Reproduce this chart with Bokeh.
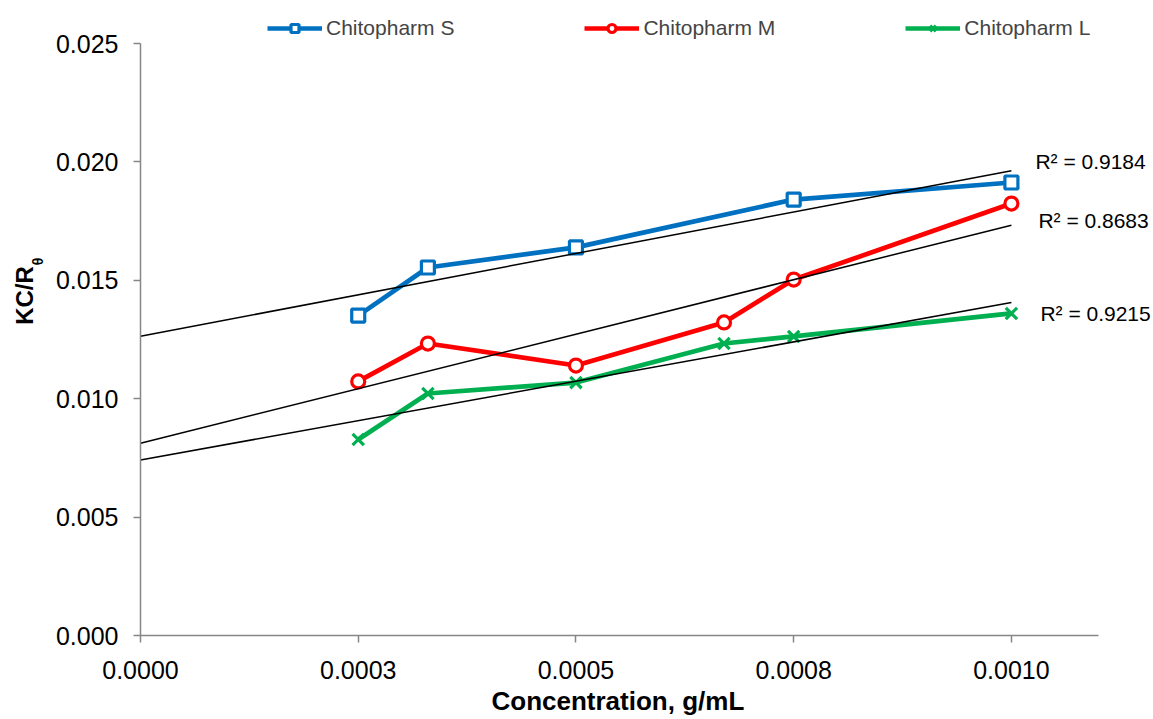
import numpy as np
from bokeh.plotting import figure
from bokeh.layouts import row
from bokeh.models import (Range1d, FixedTicker, NumeralTickFormatter, Label,
                          Legend, LegendItem, Title)
from bokeh.embed import file_html
from bokeh.resources import INLINE

# ---- data ----
series_names = ["Chitopharm S", "Chitopharm M", "Chitopharm L"]
conc_s = [0.00025, 0.00033, 0.0005, 0.00075, 0.001]
kcr_s = [0.01351, 0.01554, 0.01639, 0.01841, 0.01913]
conc_m = [0.00025, 0.00033, 0.0005, 0.00067, 0.00075, 0.001]
kcr_m = [0.01073, 0.01233, 0.01140, 0.01322, 0.01503, 0.01824]
conc_l = [0.00025, 0.00033, 0.0005, 0.00067, 0.00075, 0.001]
kcr_l = [0.00828, 0.01022, 0.01068, 0.01233, 0.01263, 0.01360]
r2_texts = ["R² = 0.9184", "R² = 0.8683", "R² = 0.9215"]
x_ticks = [0, 0.00025, 0.0005, 0.00075, 0.001]
x_tick_labels = ["0.0000", "0.0003", "0.0005", "0.0008", "0.0010"]
y_ticks = [0, 0.005, 0.010, 0.015, 0.020, 0.025]
x_axis_max = 0.0011
y_axis_max = 0.025
x_title = "Concentration, g/mL"
y_title_main, y_title_sub = "KC/R", "θ"

FONT = "Liberation Sans"
AXIS_GREY = "#868686"
colors = ["#0070C0", "#FF0000", "#00B050"]
markers = ["square", "circle", "x"]
marker_sizes = [13, 13, 16]

W, H = 1153, 719
LABEL_W = 50                       # narrow strip holding the y-axis title
LEFT, AXIS_RIGHT_PX, AXIS_TOP_PX, BOTTOM = 140, 1098, 43, 635
x_end = x_axis_max * (W - LEFT) / (AXIS_RIGHT_PX - LEFT)
y_end = y_axis_max * BOTTOM / (BOTTOM - AXIS_TOP_PX)

p = figure(width=W - LABEL_W, height=H, output_backend="svg",
           toolbar_location=None,
           x_range=Range1d(0, x_end), y_range=Range1d(0, y_end),
           min_border_left=LEFT - LABEL_W, min_border_right=0,
           min_border_top=0, min_border_bottom=H - BOTTOM)
p.outline_line_color = None
p.xgrid.visible = False
p.ygrid.visible = False
p.background_fill_color = "white"
p.border_fill_color = "white"

# axes
p.xaxis.ticker = FixedTicker(ticks=x_ticks)
p.xaxis.major_label_overrides = {t: l for t, l in zip(x_ticks, x_tick_labels)}
p.yaxis.ticker = FixedTicker(ticks=y_ticks)
p.yaxis.formatter = NumeralTickFormatter(format="0.000")
p.xaxis.bounds = (0, x_axis_max)
p.yaxis.bounds = (0, y_axis_max)
for ax in (p.xaxis[0], p.yaxis[0]):
    ax.axis_line_color = AXIS_GREY
    ax.axis_line_width = 1.5
    ax.major_tick_line_color = AXIS_GREY
    ax.major_tick_line_width = 1.5
    ax.major_tick_in = 0
    ax.major_tick_out = 7
    ax.minor_tick_line_color = None
    ax.major_label_text_font = FONT
    ax.major_label_text_font_size = "25px"
    ax.major_label_text_color = "black"
p.yaxis.major_label_standoff = 15
p.xaxis.major_label_standoff = 18

# x-axis title, aligned under the drawn axis (not the wider frame)
xt = Title(text=x_title, align="left", offset=351, text_font=FONT,
           text_font_size="26px", text_font_style="bold", text_color="black")
if "standoff" in Title.properties():
    xt.standoff = 4
p.add_layout(xt, "below")

data = [(conc_s, kcr_s), (conc_m, kcr_m), (conc_l, kcr_l)]
items = []
fits = []
for (xs, ys), name, c, mk, ms in zip(data, series_names, colors, markers, marker_sizes):
    lr = p.line(xs, ys, line_color=c, line_width=4.7)
    sr = p.scatter(xs, ys, marker=mk, size=ms, fill_color="white",
                   line_color=c, line_width=3.2)
    items.append(LegendItem(label=name, renderers=[lr, sr]))
    fits.append(np.polyfit(xs, ys, 1))

# linear trendlines (forecast back to zero)
x_last = x_ticks[-1]
for m, b in fits:
    p.line([0, x_last], [b, m * x_last + b], line_color="black", line_width=1.5)

# R^2 labels
r2_offsets = [(24, 9), (27, 5), (29, -11)]
for (m, b), txt, (dx, dy) in zip(fits, r2_texts, r2_offsets):
    p.add_layout(Label(x=x_last, y=m * x_last + b, x_offset=dx, y_offset=dy,
                       text=txt, text_font=FONT, text_font_size="21px",
                       text_baseline="middle", text_align="left",
                       text_color="black"))

legend = Legend(items=items, orientation="horizontal", location=(127, 595),
                spacing=130, glyph_width=55, glyph_height=20, label_standoff=4,
                label_text_font=FONT, label_text_font_size="21px",
                padding=0, margin=0, border_line_alpha=0,
                background_fill_alpha=0)
p.add_layout(legend)

# narrow strip with the rotated y-axis title (KC/R with subscript theta);
# its frame is aligned with the main frame (top 0, bottom BOTTOM)
ylab = figure(width=LABEL_W, height=H, output_backend="svg",
              toolbar_location=None, x_range=Range1d(0, LABEL_W),
              y_range=Range1d(0, BOTTOM), x_axis_location=None,
              y_axis_location=None, min_border=0)
ylab.outline_line_color = None
ylab.background_fill_color = "white"
ylab.border_fill_color = "white"
ylab.grid.visible = False
ylab.add_layout(Label(x=24, y=BOTTOM - 295, angle=np.pi / 2, text=y_title_main,
                      text_font=FONT, text_font_size="24px",
                      text_font_style="bold", text_align="center",
                      text_baseline="middle", text_color="black"))
ylab.add_layout(Label(x=37, y=BOTTOM - 261, angle=np.pi / 2, text=y_title_sub,
                      text_font=FONT, text_font_size="14px",
                      text_font_style="bold", text_align="center",
                      text_baseline="middle", text_color="black"))

layout = row(ylab, p, spacing=0)
open("out.html", "w").write(file_html(layout, INLINE))
